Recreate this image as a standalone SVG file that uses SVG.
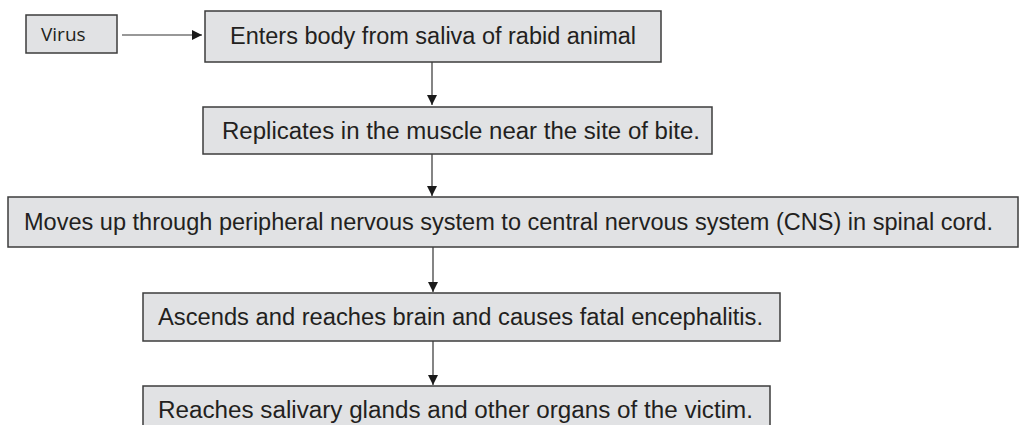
<svg xmlns="http://www.w3.org/2000/svg" width="1021" height="425" viewBox="0 0 1021 425">
  <style>
    .box { fill: #e1e2e4; stroke: #3c3c3c; stroke-width: 1.5; }
    .t { font-family: "Liberation Sans", Arial, sans-serif; font-size: 23px; fill: #231f20; }
    .tv { font-family: "Open Sans", "Noto Sans", sans-serif; font-size: 19px; fill: #231f20; }
    .c { stroke: #333; stroke-width: 1.2; fill: none; marker-end: url(#ah); }
  </style>
  <defs>
    <marker id="ah" viewBox="0 0 10 10" refX="10" refY="5" markerWidth="12" markerHeight="10" markerUnits="userSpaceOnUse" orient="auto">
      <path d="M0,0 L10,5 L0,10 Z" fill="#1a1a1a"/>
    </marker>
  </defs>
  <rect width="1021" height="425" fill="#ffffff"/>
  <g id="connectors">
    <line class="c" x1="122" y1="35" x2="202" y2="35"/>
    <line class="c" x1="432" y1="62" x2="432" y2="105"/>
    <line class="c" x1="432" y1="154" x2="432" y2="196"/>
    <line class="c" x1="433" y1="247" x2="433" y2="292"/>
    <line class="c" x1="433" y1="341" x2="433" y2="385"/>
  </g>
  <g id="virus">
    <rect class="box" x="26" y="15" width="91" height="38"/>
    <text class="tv" x="41" y="41">Virus</text>
  </g>
  <g id="enters">
    <rect class="box" x="205" y="11" width="456" height="51"/>
    <text class="t" x="230" y="44" textLength="406" lengthAdjust="spacingAndGlyphs">Enters body from saliva of rabid animal</text>
  </g>
  <g id="replicates">
    <rect class="box" x="203" y="107" width="509" height="47"/>
    <text class="t" x="222" y="139" textLength="478" lengthAdjust="spacingAndGlyphs">Replicates in the muscle near the site of bite.</text>
  </g>
  <g id="moves">
    <rect class="box" x="8" y="197" width="1010" height="50"/>
    <text class="t" x="24" y="230" textLength="969" lengthAdjust="spacingAndGlyphs">Moves up through peripheral nervous system to central nervous system (CNS) in spinal cord.</text>
  </g>
  <g id="ascends">
    <rect class="box" x="143" y="293" width="637" height="48"/>
    <text class="t" x="158" y="325" textLength="605" lengthAdjust="spacingAndGlyphs">Ascends and reaches brain and causes fatal encephalitis.</text>
  </g>
  <g id="reaches">
    <rect class="box" x="143" y="386" width="627" height="60"/>
    <text class="t" x="158" y="418" textLength="595" lengthAdjust="spacingAndGlyphs">Reaches salivary glands and other organs of the victim.</text>
  </g>
</svg>
